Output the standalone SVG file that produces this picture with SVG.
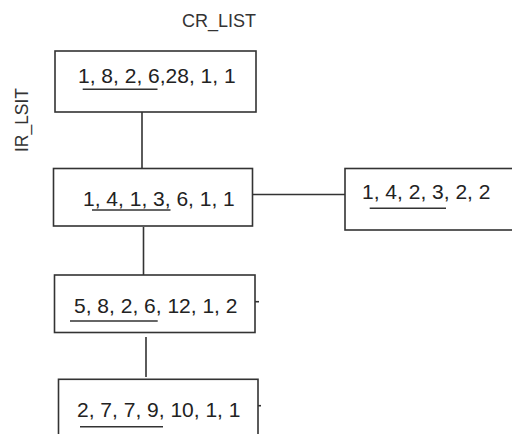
<svg xmlns="http://www.w3.org/2000/svg" width="512" height="434" viewBox="0 0 512 434">
<style>
.box{fill:#fff;stroke:#333;stroke-width:1.6}
.t{font-family:"Liberation Sans",Arial,sans-serif;font-size:21px;fill:#222}
.lbl{font-family:"Liberation Sans",Arial,sans-serif;font-size:18px;fill:#333}
.ul{stroke:#333;stroke-width:1.6}
.c{stroke:#333;stroke-width:1.6;fill:none}
</style>
<rect width="512" height="434" fill="#fff"/>
<text class="lbl" x="182" y="27">CR_LIST</text>
<text class="lbl" transform="translate(28,152) rotate(-90)" textLength="64" lengthAdjust="spacingAndGlyphs">IR_LSIT</text>
<g id="connectors">
<line class="c" x1="142" y1="112" x2="142" y2="168"/>
<line class="c" x1="143.5" y1="227" x2="143.5" y2="275"/>
<line class="c" x1="252" y1="194.5" x2="345" y2="194.5"/>
<line class="c" x1="146" y1="337" x2="146" y2="377"/>
<line class="c" x1="255" y1="301.7" x2="259" y2="301.7"/>
<line class="c" x1="258" y1="405.7" x2="261" y2="405.7"/>
</g>
<g id="node1">
<rect class="box" x="55" y="51" width="201" height="61"/>
<text class="t" x="78" y="82.5">1, 8, 2, 6,28, 1, 1</text>
<line class="ul" x1="82.7" y1="89.3" x2="157.5" y2="89.3"/>
</g>
<g id="node2">
<rect class="box" x="53.5" y="168.5" width="199" height="57.5"/>
<text class="t" x="83" y="205.5">1, 4, 1, 3, 6, 1, 1</text>
<line class="ul" x1="92" y1="210" x2="170.5" y2="210"/>
</g>
<g id="node3">
<rect class="box" x="345" y="168.5" width="180" height="61.5"/>
<text class="t" x="362" y="199">1, 4, 2, 3, 2, 2</text>
<line class="ul" x1="369.7" y1="208.3" x2="446" y2="208.3"/>
</g>
<g id="node4">
<rect class="box" x="54.5" y="275" width="200.5" height="57.5"/>
<text class="t" x="74" y="313">5, 8, 2, 6, 12, 1, 2</text>
<line class="ul" x1="70" y1="321" x2="157.7" y2="321"/>
</g>
<g id="node5">
<rect class="box" x="58.5" y="379.3" width="199.5" height="70"/>
<text class="t" x="77" y="416.5">2, 7, 7, 9, 10, 1, 1</text>
<line class="ul" x1="80" y1="426.7" x2="163" y2="426.7"/>
</g>
</svg>
